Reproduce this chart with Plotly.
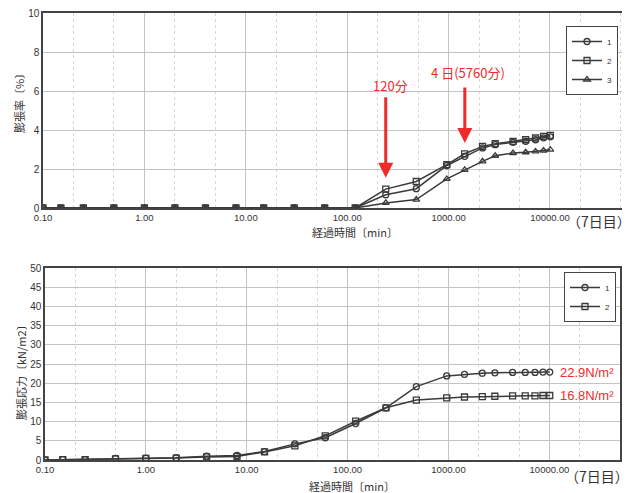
import plotly.graph_objects as go

# ---------------- data ----------------
time_min = [0.1, 0.15, 0.25, 0.5, 1, 2, 4, 8, 15, 30, 60, 120, 240, 480,
            960, 1440, 2160, 2880, 4320, 5760, 7200, 8640, 10080]

exp_1 = [0, 0, 0, 0, 0, 0, 0, 0, 0, 0, 0, 0, 0.68, 0.99, 2.18, 2.65, 3.08,
         3.25, 3.37, 3.42, 3.50, 3.60, 3.65]
exp_2 = [0, 0, 0, 0, 0, 0, 0, 0, 0, 0, 0, 0, 0.97, 1.36, 2.22, 2.78, 3.16,
         3.30, 3.42, 3.50, 3.59, 3.67, 3.72]
exp_3 = [0, 0, 0, 0, 0, 0, 0, 0, 0, 0, 0, 0, 0.26, 0.43, 1.49, 1.96, 2.39,
         2.68, 2.82, 2.86, 2.90, 2.95, 2.99]

stress_1 = [0, 0.1, 0.1, 0.4, 0.5, 0.6, 1.0, 1.2, 2.2, 4.2, 5.8, 9.5, 13.6,
            19.1, 21.9, 22.3, 22.6, 22.7, 22.8, 22.8, 22.8, 22.9, 22.9]
stress_2 = [0, 0.1, 0.1, 0.3, 0.4, 0.5, 0.8, 0.9, 2.1, 3.7, 6.3, 10.1, 13.6,
            15.6, 16.2, 16.4, 16.5, 16.6, 16.7, 16.7, 16.7, 16.8, 16.8]

x_tickvals = [0.1, 1, 10, 100, 1000, 10000]
x_ticktext = ["0.10", "1.00", "10.00", "100.00", "1000.00", "10000.00"]

# page body has an 8px margin -> figure is drawn at (8, 8)
OFF = 8
W, H = 630 - OFF, 493 - OFF
LINE = "#3a3a3a"
RED = "#ee2b2b"
CJK = "Noto Sans CJK JP"
LAT = "Liberation Sans"

def px(x):
    return (x - OFF) / W

def py(y):
    return 1 - (y - OFF) / H

fig = go.Figure()

# top chart series
for name, ys, sym in [("1", exp_1, "circle-open"), ("2", exp_2, "square-open"),
                      ("3", exp_3, "triangle-up-open")]:
    fig.add_trace(go.Scatter(
        x=time_min, y=ys, name=name, mode="lines+markers",
        line=dict(color=LINE, width=1.5),
        marker=dict(symbol=sym, size=6, color=LINE, line=dict(width=1.3, color=LINE)),
        xaxis="x", yaxis="y", legend="legend"))

# bottom chart series
for name, ys, sym in [("1", stress_1, "circle-open"), ("2", stress_2, "square-open")]:
    fig.add_trace(go.Scatter(
        x=time_min, y=ys, name=name, mode="lines+markers",
        line=dict(color=LINE, width=1.5),
        marker=dict(symbol=sym, size=6, color=LINE, line=dict(width=1.3, color=LINE)),
        xaxis="x2", yaxis="y2", legend="legend2"))

xcommon = dict(
    type="log", tickvals=x_tickvals, ticktext=x_ticktext,
    tickfont=dict(family=LAT, size=9.5, color="#333"),
    showgrid=True, gridcolor="#c4c4c4", gridwidth=1,
    minor=dict(showgrid=True, gridcolor="#d8d8d8", griddash="dot", ticks=""),
    showline=True, linecolor="#444", linewidth=1.5, mirror=True,
    ticks="", zeroline=False, automargin=False, ticklabeloverflow="allow",
)
ycommon = dict(
    tickfont=dict(family=LAT, size=10, color="#333"),
    showgrid=True, gridcolor="#c4c4c4", gridwidth=1,
    showline=True, linecolor="#444", linewidth=1.5, mirror=True,
    ticks="", zeroline=False, automargin=False, ticklabeloverflow="allow",
)

fig.update_layout(
    width=W, height=H,
    margin=dict(l=0, r=0, t=0, b=0, autoexpand=False),
    paper_bgcolor="white", plot_bgcolor="white",
    xaxis=dict(xcommon, domain=[px(43), px(623)], range=[-1, 4.72], anchor="y"),
    yaxis=dict(ycommon, domain=[py(208), py(13)], range=[0, 10], dtick=2, anchor="x"),
    xaxis2=dict(xcommon, domain=[px(45), px(620)], range=[-1, 4.70], anchor="y2"),
    yaxis2=dict(ycommon, domain=[py(460), py(268)], range=[0, 50], dtick=5, anchor="x2"),
    legend=dict(x=px(566), y=py(26), xanchor="left", yanchor="top",
                bordercolor="#444", borderwidth=1, bgcolor="white",
                font=dict(family=LAT, size=8, color="#333"),
                itemwidth=30, tracegroupgap=0),
    legend2=dict(x=px(564), y=py(272), xanchor="left", yanchor="top",
                 bordercolor="#444", borderwidth=1, bgcolor="white",
                 font=dict(family=LAT, size=8, color="#333"),
                 itemwidth=30, tracegroupgap=0),
    showlegend=True,
)

def label(text, x, y, size, color="#333", family=CJK, angle=0):
    return dict(text=text, x=px(x), y=py(y), xref="paper", yref="paper",
                xanchor="center", yanchor="middle", showarrow=False,
                textangle=angle, font=dict(family=family, size=size, color=color))

ann = []
# axis titles
ann.append(label("経過時間〔min〕", 355, 232, 11))
ann.append(label("経過時間〔min〕", 352, 486, 11))
ann.append(label("（7日目）", 599, 221, 14))
ann.append(label("（7日目）", 597, 476, 14))
ann.append(label("膨張率〔%〕", 19, 101, 11, angle=-90))
ann.append(label("膨張応力〔kN/m2〕", 21, 370, 11, angle=-90))

# red arrows (top chart)
ann.append(dict(x=2.38, y=1.55, xref="x", yref="y", ax=0, ay=-82, text="",
                showarrow=True, arrowhead=2, arrowsize=1, arrowwidth=3, arrowcolor=RED))
ann.append(dict(x=3.16, y=3.33, xref="x", yref="y", ax=0, ay=-57, text="",
                showarrow=True, arrowhead=2, arrowsize=1, arrowwidth=3, arrowcolor=RED))
ann.append(label("120分", 390, 86, 13, color=RED))
ann.append(label("4 日(5760分)", 468, 73, 13, color=RED))

# red value labels (bottom chart)
ann.append(dict(text="22.9N/m²", x=4.06, y=stress_1[-1], xref="x2", yref="y2",
                xanchor="left", yanchor="middle", xshift=3, showarrow=False,
                font=dict(family=LAT, size=13, color=RED)))
ann.append(dict(text="16.8N/m²", x=4.06, y=stress_2[-1], xref="x2", yref="y2",
                xanchor="left", yanchor="middle", xshift=3, showarrow=False,
                font=dict(family=LAT, size=13, color=RED)))

fig.update_layout(annotations=ann)

fig.write_html("out.html")
